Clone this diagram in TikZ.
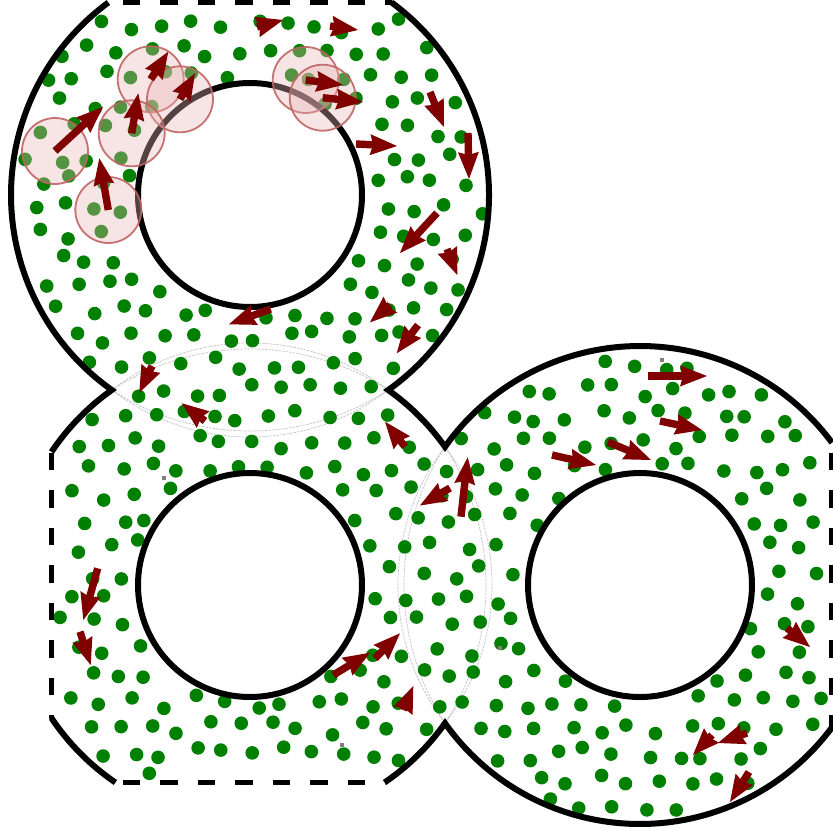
\documentclass[tikz,border=0pt]{standalone}
\usepackage{tikz}
\usetikzlibrary{arrows.meta}
\definecolor{CellGreen}{HTML}{008000}
\definecolor{CellRed}{HTML}{800000}
\definecolor{HaloFill}{HTML}{EBB5B5}
\definecolor{HaloLine}{HTML}{C06464}
\definecolor{LensGray}{HTML}{C4C4C4}
\tikzset{
  wall/.style={line width=6pt, draw=black, line join=miter},
  periodic/.style={line width=5.8pt, draw=black, dash pattern=on 17.7pt off 19.8pt},
  lens/.style={line width=0.7pt, draw=LensGray, dash pattern=on 2.5pt off 1pt},
  particle/.style={fill=CellGreen},
  halo/.style={fill=HaloFill, fill opacity=0.36, draw=HaloLine, draw opacity=0.9, line width=1.8pt},
  vel/.style={-{Stealth[length=27pt,width=21pt,inset=3pt,line width=0pt]}, line width=7.4pt, draw=CellRed},
  stub/.style={fill=gray},
}

\begin{document}
\begin{tikzpicture}[x=1pt,y=-1pt]
  \fill[white] (0,0) rectangle (833,830);
  \useasboundingbox (0,0) rectangle (833,830);
  \def\Ro{239}
  \def\Ri{112}
  \pgfmathsetmacro\aN{asin(195/\Ro)}
  \pgfmathsetmacro\aT{asin(192.5/\Ro)}
  \pgfmathsetmacro\aS{asin(197.5/\Ro)}
  \pgfmathsetmacro\aW{acos(198.5/\Ro)}
  \pgfmathsetmacro\aE{acos(192/\Ro)}
  \pgfmathsetmacro\aM{90-\aN}
  \coordinate (A) at (250,195);
  \coordinate (B) at (250,585);
  \coordinate (C) at (640,585);
  \coordinate (L1) at (111.81,390);
  \coordinate (M1) at (445,446.81);

  % overlap lenses
  \foreach \R/\ph in {253.4/33.05, 226.6/37.58}{
    \draw[lens] (L1) arc[start angle=270-\ph, end angle=270+\ph, radius=\R];
    \draw[lens] (L1) arc[start angle=90+\ph, end angle=90-\ph, radius=\R];
    \draw[lens] (M1) arc[start angle=180+\ph, end angle=180-\ph, radius=\R];
    \draw[lens] (M1) arc[start angle=-\ph, end angle=\ph, radius=\R];
  }

  % particles
  \pgfmathsetseed{2718}
  \foreach \j in {0,...,33}{
    \foreach \i in {0,...,28}{
      \pgfmathsetmacro{\px}{30*\i+15*mod(\j,2)+7*rand}
      \pgfmathsetmacro{\py}{26*\j+7*rand}
      \pgfmathsetmacro{\dA}{veclen(\px-250,\py-195)}
      \pgfmathsetmacro{\dB}{veclen(\px-250,\py-585)}
      \pgfmathsetmacro{\dC}{veclen(\px-640,\py-585)}
      \pgfmathtruncatemacro{\keep}{((\dA<234)&&(\py>11)) || ((\dB<234)&&(\px>60)&&(\py<774)) || ((\dC<234)&&(\px<824))}
      \pgfmathtruncatemacro{\hole}{(\dA<117)||(\dB<117)||(\dC<117)}
      \ifnum\keep=1 \ifnum\hole=0 \fill[particle] (\px,\py) circle[radius=6.8]; \fi\fi
    }
  }

  % walls
  \draw[wall] (A) ++({180+\aT}:\Ro) arc[start angle=180+\aT, end angle=180-\aN, radius=\Ro]
    arc[start angle=180+\aN, end angle=180+\aW, radius=\Ro];
  \draw[wall] (B) ++({180-\aW}:\Ro) arc[start angle=180-\aW, end angle=180-\aS, radius=\Ro];
  \draw[wall] (B) ++(\aS:\Ro) arc[start angle=\aS, end angle=\aM, radius=\Ro]
    arc[start angle=180-\aM, end angle=\aE, radius=\Ro];
  \draw[wall] (C) ++({-\aE}:\Ro) arc[start angle=-\aE, end angle=-180+\aM, radius=\Ro]
    arc[start angle=-\aM, end angle=-\aN, radius=\Ro]
    arc[start angle=\aN, end angle=-\aT, radius=\Ro];
  \draw[wall] (A) circle[radius=\Ri];
  \draw[wall] (B) circle[radius=\Ri];
  \draw[wall] (C) circle[radius=\Ri];

  \begin{scope}
    \clip (A) circle[radius=241];
    \draw[periodic] (47.5,2.5) -- (833,2.5);
  \end{scope}
  \begin{scope}
    \clip (B) circle[radius=241];
    \draw[periodic] (51.5,2.5) -- (51.5,830);
    \draw[periodic] (47.5,782.5) -- (833,782.5);
  \end{scope}
  \begin{scope}
    \clip (C) circle[radius=241];
    \draw[periodic] (832,2.5) -- (832,830);
  \end{scope}

  \foreach \gx/\gy in {164/478, 342/745, 500/648, 662/360}
    \fill[stub] (\gx-2,\gy-2) rectangle (\gx+2,\gy+2);

  % contact halos
  \foreach \hx/\hy in {55/151, 150.7/79.3, 180/99.3, 131.7/133.3, 108.3/210, 305.7/80, 322.7/97.7}
    \draw[halo] (\hx,\hy) circle[radius=33];

  % velocities
  \foreach \xa/\ya/\xb/\yb in {55/151/103/107, 131.7/133.3/138.3/93.3, 150.7/79.3/168.3/51.7,
      180/99.3/195/73.3, 108.3/210/99.3/158.3, 305.7/80/343/85, 322.7/97.7/363/102,
      257/27/283/20, 330/26/358/30, 356/144/397/146, 430/92/444/127, 468/133/469/179,
      437/213/400/253, 447/249/457.3/275, 390/305/370/322.3, 418/325/396.7/353.3,
      270.7/309/229/324.3, 152/366/139.3/392.7, 205/421/181.7/403.3, 405/446.7/385/421.7,
      450/488/420/505.5, 461/516.7/467.7/457.3, 97.7/568.3/83.3/620, 80/631.7/90.7/665,
      333.3/675/370/652.7, 375/658.3/400/633.3, 403.3/710/413.3/686, 648/376/707/376,
      660/421/702/430, 608/442/651/460, 552/455/596/465, 787/628/810/647,
      747/733/718/743, 712/735/693/755, 749/772/730/802}
    \draw[vel] (\xa,\ya) -- (\xb,\yb);
\end{tikzpicture}
\end{document}
